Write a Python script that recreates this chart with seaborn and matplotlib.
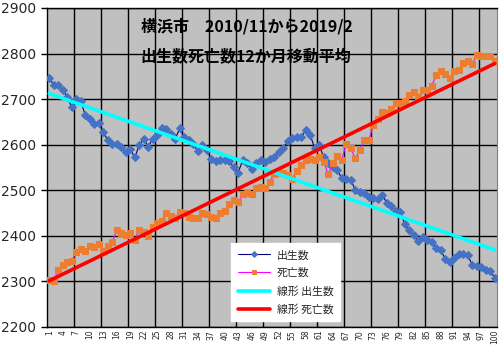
import numpy as np
import pandas as pd
import matplotlib
matplotlib.use('Agg')
import matplotlib.pyplot as plt
import seaborn as sns

# 12-month moving averages, Yokohama, 2010/11 - 2019/2 (100 points)
months = list(range(1, 101))

births = [
    2746, 2731, 2731, 2720, 2705, 2682, 2700, 2696, 2665, 2656,
    2645, 2648, 2627, 2610, 2601, 2601, 2594, 2583, 2590, 2572,
    2599, 2613, 2596, 2613, 2621, 2636, 2634, 2624, 2613, 2636,
    2618, 2610, 2601, 2586, 2599, 2588, 2569, 2564, 2567, 2567,
    2564, 2550, 2539, 2567, 2559, 2546, 2559, 2567, 2563, 2568,
    2572, 2583, 2592, 2608, 2614, 2616, 2616, 2632, 2621, 2592,
    2599, 2572, 2560, 2550, 2545, 2526, 2524, 2523, 2501, 2497,
    2493, 2486, 2482, 2480, 2490, 2473, 2466, 2455, 2453, 2426,
    2413, 2402, 2389, 2397, 2391, 2386, 2373, 2369, 2349, 2342,
    2351, 2360, 2360, 2358, 2336, 2334, 2331, 2325, 2323, 2308,
]

deaths = [
    2303, 2301, 2325, 2336, 2342, 2345, 2364, 2371, 2367, 2378,
    2375, 2382, 2367, 2378, 2386, 2413, 2407, 2402, 2407, 2392,
    2413, 2408, 2400, 2420, 2429, 2433, 2450, 2444, 2439, 2453,
    2451, 2441, 2439, 2440, 2451, 2448, 2441, 2439, 2451, 2455,
    2471, 2479, 2475, 2491, 2495, 2491, 2504, 2507, 2504, 2518,
    2535, 2538, 2537, 2533, 2525, 2543, 2555, 2567, 2568, 2567,
    2574, 2563, 2535, 2560, 2575, 2567, 2602, 2592, 2570, 2588,
    2610, 2610, 2643, 2656, 2671, 2669, 2678, 2691, 2691, 2697,
    2709, 2715, 2704, 2720, 2720, 2729, 2753, 2762, 2755, 2746,
    2762, 2764, 2779, 2784, 2777, 2797, 2795, 2795, 2795, 2784,
]

title_lines = ['横浜市　2010/11から2019/2', '出生数死亡数12か月移動平均']
labels = ['出生数', '死亡数', '線形 出生数', '線形 死亡数']

df = pd.DataFrame({'month': months, 'births': births, 'deaths': deaths})

sns.set_style('white')
plt.rcParams['font.family'] = ['Noto Sans CJK JP', 'DejaVu Sans']

fig = plt.figure(figsize=(5.04, 3.51), dpi=100)
ax = fig.add_axes([47 / 504, 24 / 351, 450 / 504, 319 / 351])
ax.set_facecolor('#C0C0C0')

# data series
sns.lineplot(data=df, x='month', y='births', ax=ax, color='#000080', linewidth=0.8,
             marker='D', markersize=4.2, markerfacecolor='#4472C4', markeredgecolor='#4472C4',
             label=labels[0], zorder=3)
sns.lineplot(data=df, x='month', y='deaths', ax=ax, color='#FF00FF', linewidth=0.8,
             marker='s', markersize=4.4, markerfacecolor='#ED7D31', markeredgecolor='#ED7D31',
             label=labels[1], zorder=3)

# linear trend lines
sns.regplot(data=df, x='month', y='births', ax=ax, scatter=False, ci=None, truncate=True,
            label=labels[2], line_kws={'color': '#00FFFF', 'linewidth': 2.6, 'zorder': 4})
sns.regplot(data=df, x='month', y='deaths', ax=ax, scatter=False, ci=None, truncate=True,
            label=labels[3], line_kws={'color': '#FF0000', 'linewidth': 2.6, 'zorder': 4})

# axes
ax.set_xlim(0.5, 100.5)
ax.set_ylim(2200, 2900)
ax.set_yticks(np.arange(2200, 2901, 100))
ax.set_xticks(np.arange(1, 101, 3))
ax.set_xticklabels([str(v) for v in range(1, 101, 3)], rotation=90, fontsize=5.5,
                   family='DejaVu Sans')
ax.set_xticks(np.arange(6.5, 100, 6), minor=True)
for t in ax.get_yticklabels():
    t.set_fontsize(10)
    t.set_family('DejaVu Sans')
ax.tick_params(axis='y', which='major', length=4, width=1, color='black', pad=4, direction='out', left=True)
ax.tick_params(axis='x', which='both', length=0, pad=2)
ax.grid(axis='y', which='major', color='black', linewidth=1)
ax.grid(axis='x', which='minor', color='black', linewidth=1)
ax.grid(axis='x', which='major', visible=False)
ax.set_axisbelow(True)
ax.set_xlabel('')
ax.set_ylabel('')
for side in ['left', 'bottom', 'top']:
    ax.spines[side].set_color('black')
    ax.spines[side].set_linewidth(1)
ax.spines['right'].set_color('#808080')
ax.spines['right'].set_linewidth(0.8)

# title inside the plot area
ax.text(0.444, 0.942, title_lines[0], transform=ax.transAxes, ha='center', va='center',
        fontsize=11.5, fontweight='bold', color='black')
ax.text(0.442, 0.850, title_lines[1], transform=ax.transAxes, ha='center', va='center',
        fontsize=11.5, fontweight='bold', color='black')

leg = ax.legend(loc='upper left', bbox_to_anchor=(226 / 504, 1 - 238 / 351),
                bbox_transform=fig.transFigure, fontsize=7.8, frameon=True, fancybox=False,
                framealpha=1, edgecolor='white', facecolor='white', handlelength=3,
                labelspacing=0.7, borderpad=0.6, handletextpad=0.6, markerscale=0.7)

fig.savefig('out.png', dpi=100, facecolor='white')
